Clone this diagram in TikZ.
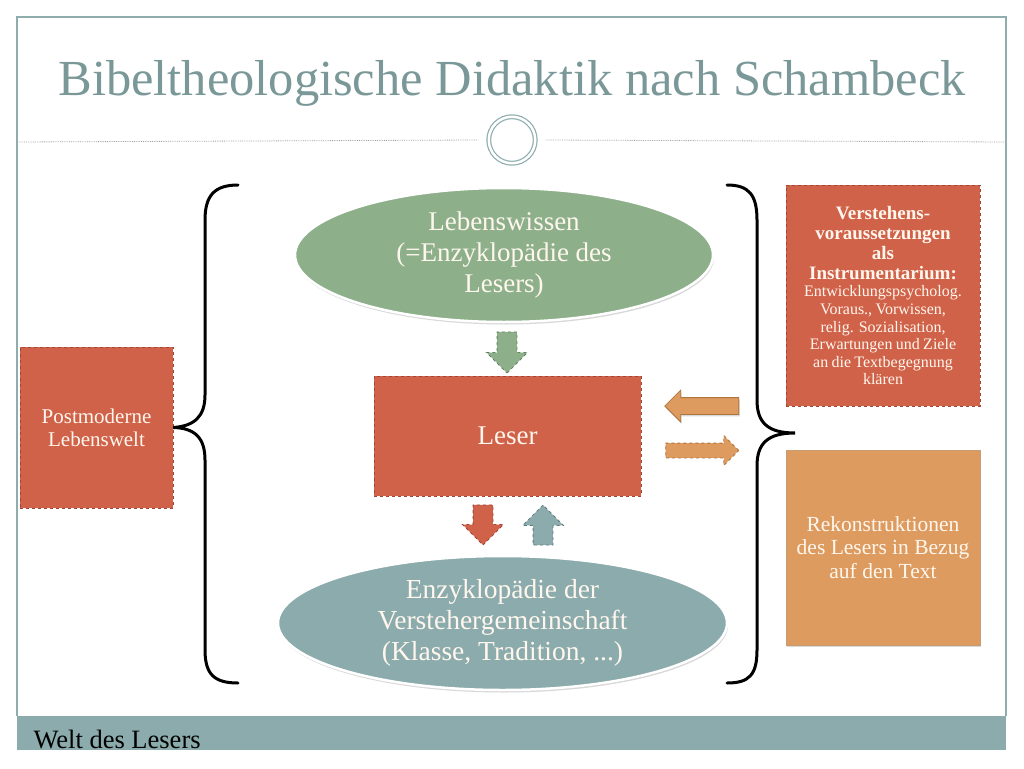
\documentclass[tikz,border=0pt]{standalone}
\usepackage{fontspec}
\setmainfont{Liberation Serif}
\usetikzlibrary{positioning,shapes.geometric,shapes.arrows,shadows}

\definecolor{framegray}{RGB}{143,173,173}
\definecolor{titlegray}{RGB}{122,152,152}
\definecolor{redfill}{RGB}{208,98,73}
\definecolor{redline}{RGB}{160,70,55}
\definecolor{greenfill}{RGB}{141,176,139}
\definecolor{greenline}{RGB}{100,130,98}
\definecolor{tealfill}{RGB}{139,171,172}
\definecolor{tealline}{RGB}{95,125,126}
\definecolor{orangefill}{RGB}{221,155,96}
\definecolor{orangeline}{RGB}{175,115,60}
\definecolor{paletext}{RGB}{255,247,238}

\newcommand{\fsz}[2]{\fontsize{#1}{#2}\selectfont}

\begin{document}
\begin{tikzpicture}[x=1pt, y=-1pt,
        redbox/.style={rectangle, draw=redline, dashed, fill=redfill, text=paletext, align=center, inner sep=3pt},
        orangebox/.style={rectangle, draw=orangeline!70, fill=orangefill, text=paletext, align=center, drop shadow={opacity=0.3, shadow xshift=1pt, shadow yshift=-2pt}},
        bubble/.style={ellipse, draw=white, line width=2.5pt, text=paletext, align=center, inner sep=0pt, drop shadow={opacity=0.3, shadow xshift=1pt, shadow yshift=-2.5pt}},
        blockarrow/.style={single arrow, outer sep=0pt, line width=0.8pt},
        brace/.style={line width=3pt, line cap=round}
    ]

    \useasboundingbox (0,0) rectangle (1024,768);
    \fill[white] (0,0) rectangle (1024,768);

    % Frame and footer
    \fill[tealfill] (17,716) rectangle (1006,750);
    \draw[framegray, line width=1.2pt] (17,716) -- (17,17) -- (1006,17) -- (1006,716);
    \node[anchor=base west, font=\fsz{26.5}{30}] (footer) at (30,748) {Welt des Lesers};

    % Title
    \node[text=titlegray, anchor=base, font=\fsz{50.5}{60}] (title) at (512,95) {Bibeltheologische Didaktik nach Schambeck};
    \node[circle, draw=framegray, double=white, double distance=2.5pt, line width=1.2pt, minimum size=46.5pt, inner sep=0pt] (ring) at (512,140) {};
    \draw[gray!75, densely dotted, line width=0.8pt] (17,142) -- ([xshift=-10pt]ring.west);
    \draw[gray!75, densely dotted, line width=0.8pt] ([xshift=10pt]ring.east) -- (1006,142);

    % Boxes
    \node[redbox, minimum width=153pt, minimum height=161pt, font=\fsz{21}{23}] (lebenswelt) at (96.5,427.5) {Postmoderne\\Lebenswelt};
    \node[bubble, fill=greenfill, minimum width=418pt, minimum height=134pt, font=\fsz{27}{31}] (lebenswissen) at (504,255) {Lebenswissen\\(=Enzyklopädie des\\Lesers)};
    \node[redbox, minimum width=267pt, minimum height=120pt, font=\fsz{27}{31}] (leser) at (507.5,436) {Leser};
    \node[bubble, fill=tealfill, minimum width=449pt, minimum height=134pt, font=\fsz{27.5}{31}] (gemeinschaft) at (502.5,623) {Enzyklopädie der\\Verstehergemeinschaft\\(Klasse, Tradition, ...)};
    \node[redbox, minimum width=194pt, minimum height=221pt, text width=186pt] (voraussetzungen) at (883,295.5)
        {{\bfseries\fsz{19}{20}Verstehens-\\voraussetzungen\\als\\Instrumentarium:\par}%
         {\fsz{16}{17.6}Entwicklungspsycholog.\\Voraus., Vorwissen,\\relig. Sozialisation,\\Erwartungen und Ziele\\an die Textbegegnung\\klären\par}};
    \node[orangebox, minimum width=194pt, minimum height=195pt, font=\fsz{21.5}{23.5}] (rekonstruktion) at (883,547.5) {Rekonstruktionen\\des Lesers in Bezug\\auf den Text};

    % Block arrows
    \node[blockarrow, fill=greenfill, draw=greenline, dashed, shape border rotate=270, inner sep=9.5pt, minimum height=41pt, single arrow head extend=10.5pt] (wissenarrow) at (507,347.5) {};
    \node[blockarrow, fill=redfill, draw=redline, dashed, shape border rotate=270, inner sep=9.5pt, minimum height=40pt, single arrow head extend=10.5pt] (leserdown) at (483,520) {};
    \node[blockarrow, fill=tealfill, draw=tealline, dashed, shape border rotate=90, inner sep=9.5pt, minimum height=40pt, single arrow head extend=10.5pt] (gemeinup) at (543,530) {};
    \node[blockarrow, fill=orangefill, draw=orangeline, shape border rotate=180, inner sep=8pt, minimum height=74pt, single arrow head extend=7.5pt, drop shadow={opacity=0.3, shadow xshift=1pt, shadow yshift=-2pt}] (orangeleft) at (706,406) {};
    \node[blockarrow, fill=orangefill, draw=orangeline, dashed, inner sep=7pt, minimum height=73pt, single arrow head extend=7.5pt] (orangeright) at (698.5,450.5) {};

    % Braces
    \draw[brace] (238,185) .. controls (215,185) and (205,195) .. (205,220) -- (205,395)
        .. controls (205,416) and (195,426) .. (lebenswelt.east)
        .. controls (195,428) and (205,438) .. (205,460) -- (205,650)
        .. controls (205,675) and (215,683) .. (238,683);
    \draw[brace] (727,185) .. controls (749,185) and (757,195) .. (757,220) -- (757,400)
        .. controls (757,422) and (767,433) .. (795,433)
        .. controls (767,433) and (757,444) .. (757,466) -- (757,650)
        .. controls (757,675) and (749,683) .. (727,683);

\end{tikzpicture}
\end{document}
